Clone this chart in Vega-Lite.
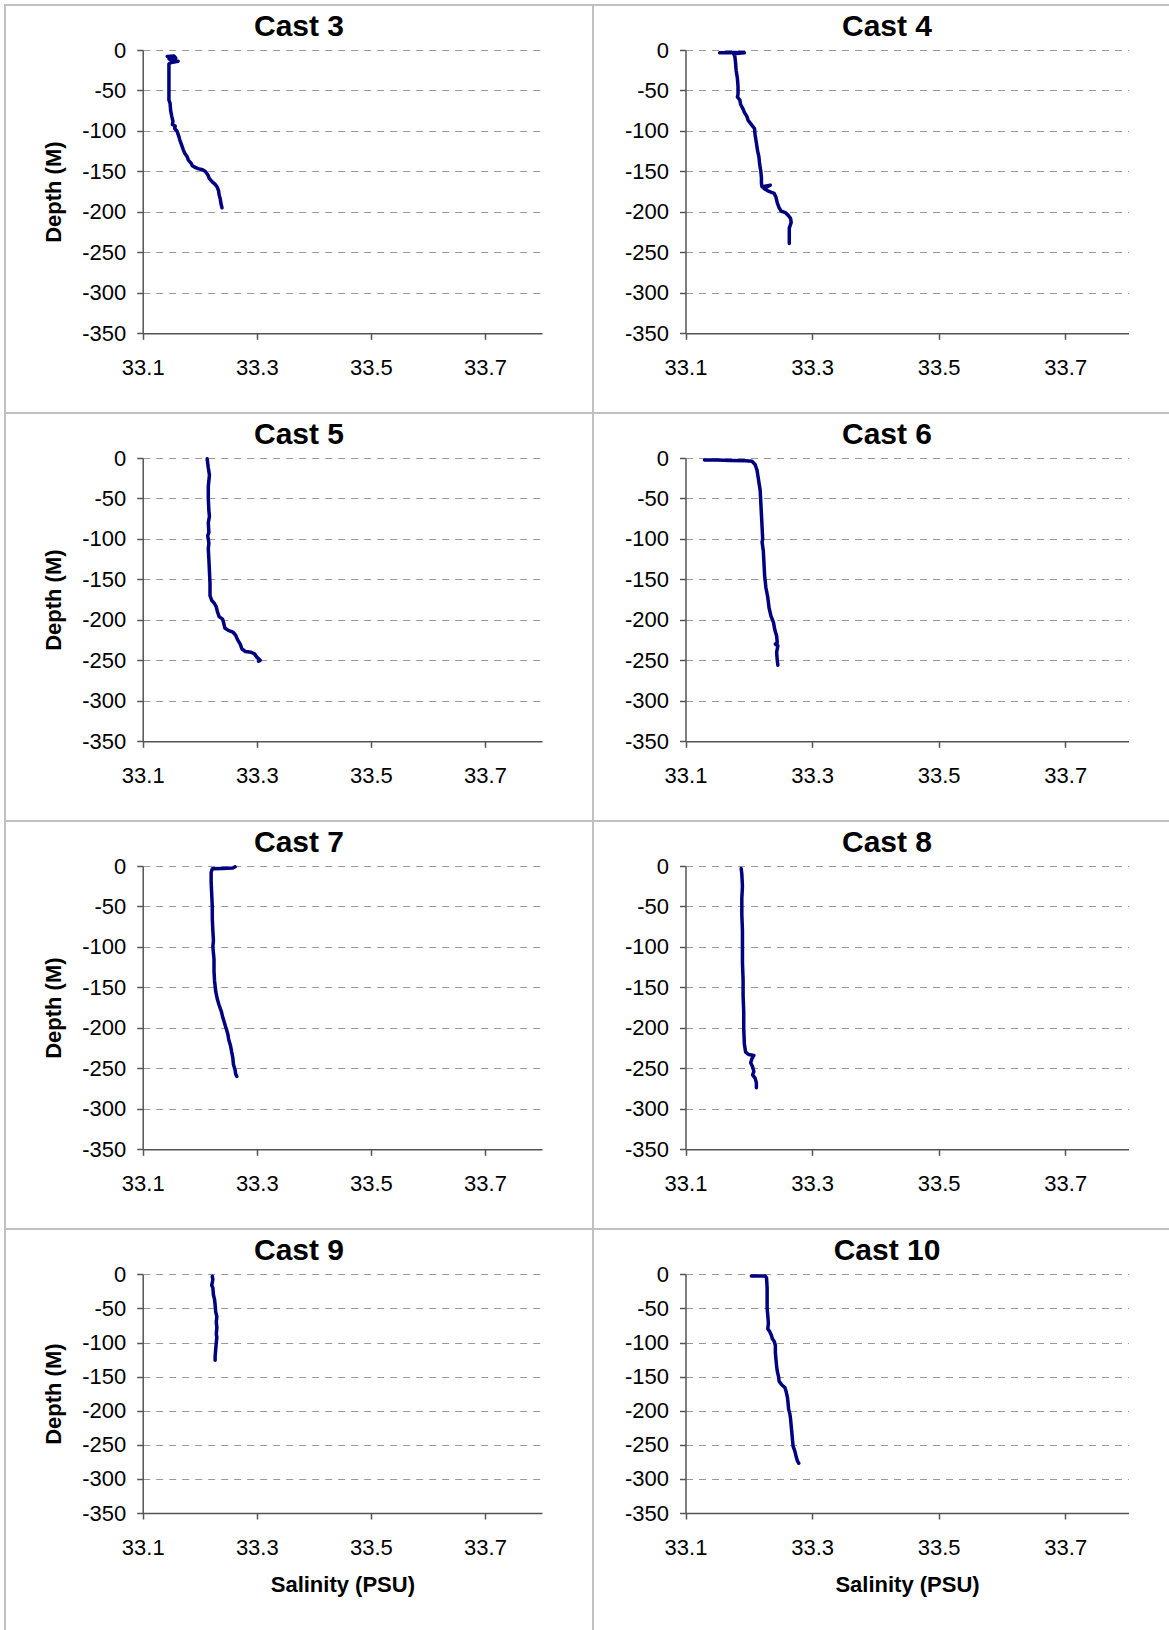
{
  "$schema": "https://vega.github.io/schema/vega-lite/v6.json",
  "padding": {"left": 4, "top": 4, "right": 0, "bottom": 0},
  "background": "white",
  "datasets": {
    "cast3": [
      {"step": 1, "salinity": 33.143, "depth": -8}, {"step": 2, "salinity": 33.155, "depth": -7.5},
      {"step": 3, "salinity": 33.158, "depth": -10}, {"step": 4, "salinity": 33.146, "depth": -11},
      {"step": 5, "salinity": 33.152, "depth": -13}, {"step": 6, "salinity": 33.162, "depth": -14},
      {"step": 7, "salinity": 33.150, "depth": -15.5}, {"step": 8, "salinity": 33.146, "depth": -17},
      {"step": 9, "salinity": 33.146, "depth": -30}, {"step": 10, "salinity": 33.146, "depth": -45},
      {"step": 11, "salinity": 33.146, "depth": -62}, {"step": 12, "salinity": 33.148, "depth": -66},
      {"step": 13, "salinity": 33.149, "depth": -75}, {"step": 14, "salinity": 33.151, "depth": -82},
      {"step": 15, "salinity": 33.153, "depth": -88}, {"step": 16, "salinity": 33.152, "depth": -92},
      {"step": 17, "salinity": 33.157, "depth": -94}, {"step": 18, "salinity": 33.156, "depth": -97},
      {"step": 19, "salinity": 33.160, "depth": -100}, {"step": 20, "salinity": 33.163, "depth": -106},
      {"step": 21, "salinity": 33.165, "depth": -111}, {"step": 22, "salinity": 33.168, "depth": -117},
      {"step": 23, "salinity": 33.171, "depth": -123}, {"step": 24, "salinity": 33.174, "depth": -128},
      {"step": 25, "salinity": 33.178, "depth": -132}, {"step": 26, "salinity": 33.180, "depth": -136},
      {"step": 27, "salinity": 33.185, "depth": -140}, {"step": 28, "salinity": 33.187, "depth": -143},
      {"step": 29, "salinity": 33.192, "depth": -145}, {"step": 30, "salinity": 33.197, "depth": -146.5},
      {"step": 31, "salinity": 33.205, "depth": -148}, {"step": 32, "salinity": 33.210, "depth": -150},
      {"step": 33, "salinity": 33.214, "depth": -154}, {"step": 34, "salinity": 33.217, "depth": -159},
      {"step": 35, "salinity": 33.222, "depth": -163}, {"step": 36, "salinity": 33.227, "depth": -166},
      {"step": 37, "salinity": 33.231, "depth": -170}, {"step": 38, "salinity": 33.233, "depth": -174},
      {"step": 39, "salinity": 33.234, "depth": -179}, {"step": 40, "salinity": 33.236, "depth": -184},
      {"step": 41, "salinity": 33.237, "depth": -189}, {"step": 42, "salinity": 33.239, "depth": -195}
    ],
    "cast4": [
      {"step": 1, "salinity": 33.154, "depth": -3.5}, {"step": 2, "salinity": 33.176, "depth": -3},
      {"step": 3, "salinity": 33.193, "depth": -3.5}, {"step": 4, "salinity": 33.176, "depth": -4.5},
      {"step": 5, "salinity": 33.178, "depth": -8}, {"step": 6, "salinity": 33.179, "depth": -15},
      {"step": 7, "salinity": 33.180, "depth": -25}, {"step": 8, "salinity": 33.182, "depth": -35},
      {"step": 9, "salinity": 33.183, "depth": -45}, {"step": 10, "salinity": 33.183, "depth": -55},
      {"step": 11, "salinity": 33.182, "depth": -58}, {"step": 12, "salinity": 33.186, "depth": -62},
      {"step": 13, "salinity": 33.187, "depth": -67}, {"step": 14, "salinity": 33.191, "depth": -73},
      {"step": 15, "salinity": 33.193, "depth": -77}, {"step": 16, "salinity": 33.197, "depth": -82},
      {"step": 17, "salinity": 33.199, "depth": -87}, {"step": 18, "salinity": 33.203, "depth": -91},
      {"step": 19, "salinity": 33.206, "depth": -94}, {"step": 20, "salinity": 33.209, "depth": -97},
      {"step": 21, "salinity": 33.210, "depth": -105}, {"step": 22, "salinity": 33.212, "depth": -115},
      {"step": 23, "salinity": 33.214, "depth": -125}, {"step": 24, "salinity": 33.216, "depth": -132},
      {"step": 25, "salinity": 33.217, "depth": -140}, {"step": 26, "salinity": 33.219, "depth": -150},
      {"step": 27, "salinity": 33.220, "depth": -158}, {"step": 28, "salinity": 33.220, "depth": -165},
      {"step": 29, "salinity": 33.221, "depth": -169}, {"step": 30, "salinity": 33.234, "depth": -167},
      {"step": 31, "salinity": 33.224, "depth": -171}, {"step": 32, "salinity": 33.230, "depth": -174},
      {"step": 33, "salinity": 33.240, "depth": -177}, {"step": 34, "salinity": 33.243, "depth": -182},
      {"step": 35, "salinity": 33.245, "depth": -189}, {"step": 36, "salinity": 33.248, "depth": -195},
      {"step": 37, "salinity": 33.251, "depth": -199}, {"step": 38, "salinity": 33.258, "depth": -201},
      {"step": 39, "salinity": 33.262, "depth": -204}, {"step": 40, "salinity": 33.266, "depth": -208},
      {"step": 41, "salinity": 33.267, "depth": -213}, {"step": 42, "salinity": 33.264, "depth": -220},
      {"step": 43, "salinity": 33.264, "depth": -230}, {"step": 44, "salinity": 33.264, "depth": -239}
    ],
    "cast5": [
      {"step": 1, "salinity": 33.213, "depth": -1}, {"step": 2, "salinity": 33.215, "depth": -12},
      {"step": 3, "salinity": 33.217, "depth": -21}, {"step": 4, "salinity": 33.215, "depth": -35},
      {"step": 5, "salinity": 33.215, "depth": -50}, {"step": 6, "salinity": 33.216, "depth": -65},
      {"step": 7, "salinity": 33.217, "depth": -72}, {"step": 8, "salinity": 33.215, "depth": -80},
      {"step": 9, "salinity": 33.216, "depth": -92}, {"step": 10, "salinity": 33.214, "depth": -96},
      {"step": 11, "salinity": 33.216, "depth": -105}, {"step": 12, "salinity": 33.215, "depth": -112},
      {"step": 13, "salinity": 33.216, "depth": -125}, {"step": 14, "salinity": 33.217, "depth": -140},
      {"step": 15, "salinity": 33.218, "depth": -155}, {"step": 16, "salinity": 33.218, "depth": -170},
      {"step": 17, "salinity": 33.221, "depth": -176}, {"step": 18, "salinity": 33.226, "depth": -180},
      {"step": 19, "salinity": 33.229, "depth": -184}, {"step": 20, "salinity": 33.231, "depth": -190},
      {"step": 21, "salinity": 33.234, "depth": -196}, {"step": 22, "salinity": 33.240, "depth": -199},
      {"step": 23, "salinity": 33.242, "depth": -204}, {"step": 24, "salinity": 33.244, "depth": -210},
      {"step": 25, "salinity": 33.250, "depth": -213}, {"step": 26, "salinity": 33.258, "depth": -215},
      {"step": 27, "salinity": 33.263, "depth": -219}, {"step": 28, "salinity": 33.266, "depth": -224},
      {"step": 29, "salinity": 33.271, "depth": -230}, {"step": 30, "salinity": 33.274, "depth": -236},
      {"step": 31, "salinity": 33.280, "depth": -239}, {"step": 32, "salinity": 33.290, "depth": -240},
      {"step": 33, "salinity": 33.296, "depth": -242}, {"step": 34, "salinity": 33.300, "depth": -246},
      {"step": 35, "salinity": 33.306, "depth": -250}, {"step": 36, "salinity": 33.303, "depth": -251}
    ],
    "cast6": [
      {"step": 1, "salinity": 33.130, "depth": -2.5}, {"step": 2, "salinity": 33.150, "depth": -2.5},
      {"step": 3, "salinity": 33.170, "depth": -3}, {"step": 4, "salinity": 33.195, "depth": -3.5},
      {"step": 5, "salinity": 33.205, "depth": -4}, {"step": 6, "salinity": 33.210, "depth": -8},
      {"step": 7, "salinity": 33.213, "depth": -15}, {"step": 8, "salinity": 33.215, "depth": -25},
      {"step": 9, "salinity": 33.218, "depth": -40}, {"step": 10, "salinity": 33.219, "depth": -55},
      {"step": 11, "salinity": 33.220, "depth": -70}, {"step": 12, "salinity": 33.221, "depth": -85},
      {"step": 13, "salinity": 33.222, "depth": -100}, {"step": 14, "salinity": 33.221, "depth": -104},
      {"step": 15, "salinity": 33.223, "depth": -115}, {"step": 16, "salinity": 33.224, "depth": -130},
      {"step": 17, "salinity": 33.225, "depth": -145}, {"step": 18, "salinity": 33.227, "depth": -160},
      {"step": 19, "salinity": 33.230, "depth": -172}, {"step": 20, "salinity": 33.232, "depth": -185},
      {"step": 21, "salinity": 33.235, "depth": -195}, {"step": 22, "salinity": 33.239, "depth": -203},
      {"step": 23, "salinity": 33.241, "depth": -212}, {"step": 24, "salinity": 33.244, "depth": -220},
      {"step": 25, "salinity": 33.245, "depth": -228}, {"step": 26, "salinity": 33.242, "depth": -230},
      {"step": 27, "salinity": 33.246, "depth": -232}, {"step": 28, "salinity": 33.244, "depth": -240},
      {"step": 29, "salinity": 33.245, "depth": -250}, {"step": 30, "salinity": 33.246, "depth": -256}
    ],
    "cast7": [
      {"step": 1, "salinity": 33.262, "depth": -1}, {"step": 2, "salinity": 33.258, "depth": -2.5},
      {"step": 3, "salinity": 33.240, "depth": -3}, {"step": 4, "salinity": 33.222, "depth": -3.5},
      {"step": 5, "salinity": 33.220, "depth": -8}, {"step": 6, "salinity": 33.220, "depth": -20},
      {"step": 7, "salinity": 33.221, "depth": -35}, {"step": 8, "salinity": 33.222, "depth": -50},
      {"step": 9, "salinity": 33.222, "depth": -65}, {"step": 10, "salinity": 33.223, "depth": -80},
      {"step": 11, "salinity": 33.224, "depth": -92}, {"step": 12, "salinity": 33.223, "depth": -100},
      {"step": 13, "salinity": 33.225, "depth": -115}, {"step": 14, "salinity": 33.225, "depth": -130},
      {"step": 15, "salinity": 33.226, "depth": -142}, {"step": 16, "salinity": 33.228, "depth": -155},
      {"step": 17, "salinity": 33.231, "depth": -165}, {"step": 18, "salinity": 33.234, "depth": -172},
      {"step": 19, "salinity": 33.238, "depth": -180}, {"step": 20, "salinity": 33.240, "depth": -186},
      {"step": 21, "salinity": 33.243, "depth": -193}, {"step": 22, "salinity": 33.246, "depth": -200},
      {"step": 23, "salinity": 33.249, "depth": -207}, {"step": 24, "salinity": 33.251, "depth": -215},
      {"step": 25, "salinity": 33.254, "depth": -222}, {"step": 26, "salinity": 33.256, "depth": -230},
      {"step": 27, "salinity": 33.258, "depth": -237}, {"step": 28, "salinity": 33.259, "depth": -245},
      {"step": 29, "salinity": 33.262, "depth": -252}, {"step": 30, "salinity": 33.263, "depth": -257},
      {"step": 31, "salinity": 33.265, "depth": -260}
    ],
    "cast8": [
      {"step": 1, "salinity": 33.188, "depth": -3}, {"step": 2, "salinity": 33.189, "depth": -10},
      {"step": 3, "salinity": 33.190, "depth": -25}, {"step": 4, "salinity": 33.189, "depth": -40},
      {"step": 5, "salinity": 33.189, "depth": -60}, {"step": 6, "salinity": 33.190, "depth": -80},
      {"step": 7, "salinity": 33.190, "depth": -100}, {"step": 8, "salinity": 33.190, "depth": -120},
      {"step": 9, "salinity": 33.191, "depth": -140}, {"step": 10, "salinity": 33.191, "depth": -160},
      {"step": 11, "salinity": 33.192, "depth": -180}, {"step": 12, "salinity": 33.192, "depth": -200},
      {"step": 13, "salinity": 33.193, "depth": -220}, {"step": 14, "salinity": 33.195, "depth": -230},
      {"step": 15, "salinity": 33.200, "depth": -233}, {"step": 16, "salinity": 33.208, "depth": -234},
      {"step": 17, "salinity": 33.205, "depth": -238}, {"step": 18, "salinity": 33.203, "depth": -243},
      {"step": 19, "salinity": 33.206, "depth": -248}, {"step": 20, "salinity": 33.208, "depth": -254},
      {"step": 21, "salinity": 33.206, "depth": -258}, {"step": 22, "salinity": 33.210, "depth": -262},
      {"step": 23, "salinity": 33.212, "depth": -268}, {"step": 24, "salinity": 33.212, "depth": -274}
    ],
    "cast9": [
      {"step": 1, "salinity": 33.222, "depth": -3}, {"step": 2, "salinity": 33.223, "depth": -8},
      {"step": 3, "salinity": 33.221, "depth": -16}, {"step": 4, "salinity": 33.223, "depth": -20},
      {"step": 5, "salinity": 33.224, "depth": -30}, {"step": 6, "salinity": 33.226, "depth": -37},
      {"step": 7, "salinity": 33.227, "depth": -45}, {"step": 8, "salinity": 33.228, "depth": -55},
      {"step": 9, "salinity": 33.230, "depth": -62}, {"step": 10, "salinity": 33.229, "depth": -70},
      {"step": 11, "salinity": 33.230, "depth": -78}, {"step": 12, "salinity": 33.229, "depth": -88},
      {"step": 13, "salinity": 33.230, "depth": -92}, {"step": 14, "salinity": 33.229, "depth": -100},
      {"step": 15, "salinity": 33.228, "depth": -110}, {"step": 16, "salinity": 33.227, "depth": -120},
      {"step": 17, "salinity": 33.227, "depth": -126}
    ],
    "cast10": [
      {"step": 1, "salinity": 33.204, "depth": -2.5}, {"step": 2, "salinity": 33.215, "depth": -2.5},
      {"step": 3, "salinity": 33.226, "depth": -2.5}, {"step": 4, "salinity": 33.228, "depth": -5},
      {"step": 5, "salinity": 33.229, "depth": -20}, {"step": 6, "salinity": 33.229, "depth": -35},
      {"step": 7, "salinity": 33.229, "depth": -50}, {"step": 8, "salinity": 33.230, "depth": -60},
      {"step": 9, "salinity": 33.231, "depth": -72}, {"step": 10, "salinity": 33.230, "depth": -80},
      {"step": 11, "salinity": 33.233, "depth": -84}, {"step": 12, "salinity": 33.236, "depth": -90},
      {"step": 13, "salinity": 33.237, "depth": -94}, {"step": 14, "salinity": 33.240, "depth": -98},
      {"step": 15, "salinity": 33.242, "depth": -104}, {"step": 16, "salinity": 33.242, "depth": -115},
      {"step": 17, "salinity": 33.243, "depth": -125}, {"step": 18, "salinity": 33.244, "depth": -135},
      {"step": 19, "salinity": 33.245, "depth": -142}, {"step": 20, "salinity": 33.247, "depth": -150},
      {"step": 21, "salinity": 33.248, "depth": -157}, {"step": 22, "salinity": 33.252, "depth": -162},
      {"step": 23, "salinity": 33.257, "depth": -166}, {"step": 24, "salinity": 33.259, "depth": -172},
      {"step": 25, "salinity": 33.261, "depth": -180}, {"step": 26, "salinity": 33.262, "depth": -188},
      {"step": 27, "salinity": 33.263, "depth": -198}, {"step": 28, "salinity": 33.265, "depth": -205},
      {"step": 29, "salinity": 33.266, "depth": -212}, {"step": 30, "salinity": 33.267, "depth": -222},
      {"step": 31, "salinity": 33.268, "depth": -232}, {"step": 32, "salinity": 33.269, "depth": -242},
      {"step": 33, "salinity": 33.270, "depth": -252}, {"step": 34, "salinity": 33.273, "depth": -260},
      {"step": 35, "salinity": 33.275, "depth": -268}, {"step": 36, "salinity": 33.277, "depth": -274},
      {"step": 37, "salinity": 33.279, "depth": -277}
    ]
  },
  "columns": 2,
  "spacing": 0,
  "bounds": "flush",
  "concat": [
    {
      "width": 588, "height": 408, "title": "Cast 3", "data": {"name": "cast3"}, "mark": "line",
      "encoding": {
        "order": {"field": "step", "type": "quantitative"},
        "x": {"field": "salinity", "type": "quantitative", "scale": {"domain": [33.1, 33.8], "range": [137.7, 537], "nice": false, "zero": false},
              "axis": {"title": null, "values": [33.1, 33.3, 33.5, 33.7], "format": ".1f", "offset": -79.7}},
        "y": {"field": "depth", "type": "quantitative", "scale": {"domain": [-350, 0], "range": [328.3, 45], "nice": false, "zero": false},
              "axis": {"title": "Depth (M)", "values": [-350, -300, -250, -200, -150, -100, -50, 0], "labelExpr": "toString(datum.value)", "offset": -137.7}}
      }
    },
    {
      "width": 588, "height": 408, "title": "Cast 4", "data": {"name": "cast4"}, "mark": "line",
      "encoding": {
        "order": {"field": "step", "type": "quantitative"},
        "x": {"field": "salinity", "type": "quantitative", "scale": {"domain": [33.1, 33.8], "range": [92.5, 535.5], "nice": false, "zero": false},
              "axis": {"title": null, "values": [33.1, 33.3, 33.5, 33.7], "format": ".1f", "offset": -79.7}},
        "y": {"field": "depth", "type": "quantitative", "scale": {"domain": [-350, 0], "range": [328.3, 45], "nice": false, "zero": false},
              "axis": {"title": null, "values": [-350, -300, -250, -200, -150, -100, -50, 0], "labelExpr": "toString(datum.value)", "offset": -92.5}}
      }
    },
    {
      "width": 588, "height": 408, "title": "Cast 5", "data": {"name": "cast5"}, "mark": "line",
      "encoding": {
        "order": {"field": "step", "type": "quantitative"},
        "x": {"field": "salinity", "type": "quantitative", "scale": {"domain": [33.1, 33.8], "range": [137.7, 537], "nice": false, "zero": false},
              "axis": {"title": null, "values": [33.1, 33.3, 33.5, 33.7], "format": ".1f", "offset": -79.7}},
        "y": {"field": "depth", "type": "quantitative", "scale": {"domain": [-350, 0], "range": [328.3, 45], "nice": false, "zero": false},
              "axis": {"title": "Depth (M)", "values": [-350, -300, -250, -200, -150, -100, -50, 0], "labelExpr": "toString(datum.value)", "offset": -137.7}}
      }
    },
    {
      "width": 588, "height": 408, "title": "Cast 6", "data": {"name": "cast6"}, "mark": "line",
      "encoding": {
        "order": {"field": "step", "type": "quantitative"},
        "x": {"field": "salinity", "type": "quantitative", "scale": {"domain": [33.1, 33.8], "range": [92.5, 535.5], "nice": false, "zero": false},
              "axis": {"title": null, "values": [33.1, 33.3, 33.5, 33.7], "format": ".1f", "offset": -79.7}},
        "y": {"field": "depth", "type": "quantitative", "scale": {"domain": [-350, 0], "range": [328.3, 45], "nice": false, "zero": false},
              "axis": {"title": null, "values": [-350, -300, -250, -200, -150, -100, -50, 0], "labelExpr": "toString(datum.value)", "offset": -92.5}}
      }
    },
    {
      "width": 588, "height": 408, "title": "Cast 7", "data": {"name": "cast7"}, "mark": "line",
      "encoding": {
        "order": {"field": "step", "type": "quantitative"},
        "x": {"field": "salinity", "type": "quantitative", "scale": {"domain": [33.1, 33.8], "range": [137.7, 537], "nice": false, "zero": false},
              "axis": {"title": null, "values": [33.1, 33.3, 33.5, 33.7], "format": ".1f", "offset": -79.7}},
        "y": {"field": "depth", "type": "quantitative", "scale": {"domain": [-350, 0], "range": [328.3, 45], "nice": false, "zero": false},
              "axis": {"title": "Depth (M)", "values": [-350, -300, -250, -200, -150, -100, -50, 0], "labelExpr": "toString(datum.value)", "offset": -137.7}}
      }
    },
    {
      "width": 588, "height": 408, "title": "Cast 8", "data": {"name": "cast8"}, "mark": "line",
      "encoding": {
        "order": {"field": "step", "type": "quantitative"},
        "x": {"field": "salinity", "type": "quantitative", "scale": {"domain": [33.1, 33.8], "range": [92.5, 535.5], "nice": false, "zero": false},
              "axis": {"title": null, "values": [33.1, 33.3, 33.5, 33.7], "format": ".1f", "offset": -79.7}},
        "y": {"field": "depth", "type": "quantitative", "scale": {"domain": [-350, 0], "range": [328.3, 45], "nice": false, "zero": false},
              "axis": {"title": null, "values": [-350, -300, -250, -200, -150, -100, -50, 0], "labelExpr": "toString(datum.value)", "offset": -92.5}}
      }
    },
    {
      "width": 588, "height": 408, "title": "Cast 9", "data": {"name": "cast9"}, "mark": "line",
      "encoding": {
        "order": {"field": "step", "type": "quantitative"},
        "x": {"field": "salinity", "type": "quantitative", "scale": {"domain": [33.1, 33.8], "range": [137.7, 537], "nice": false, "zero": false},
              "axis": {"title": "Salinity (PSU)", "values": [33.1, 33.3, 33.5, 33.7], "format": ".1f", "offset": -124}},
        "y": {"field": "depth", "type": "quantitative", "scale": {"domain": [-350, 0], "range": [284, 45.3], "nice": false, "zero": false},
              "axis": {"title": "Depth (M)", "values": [-350, -300, -250, -200, -150, -100, -50, 0], "labelExpr": "toString(datum.value)", "offset": -137.7}}
      }
    },
    {
      "width": 588, "height": 408, "title": "Cast 10", "data": {"name": "cast10"}, "mark": "line",
      "encoding": {
        "order": {"field": "step", "type": "quantitative"},
        "x": {"field": "salinity", "type": "quantitative", "scale": {"domain": [33.1, 33.8], "range": [92.5, 535.5], "nice": false, "zero": false},
              "axis": {"title": "Salinity (PSU)", "values": [33.1, 33.3, 33.5, 33.7], "format": ".1f", "offset": -124}},
        "y": {"field": "depth", "type": "quantitative", "scale": {"domain": [-350, 0], "range": [284, 45.3], "nice": false, "zero": false},
              "axis": {"title": null, "values": [-350, -300, -250, -200, -150, -100, -50, 0], "labelExpr": "toString(datum.value)", "offset": -92.5}}
      }
    }
  ],
  "config": {
    "font": "Liberation Sans",
    "view": {"stroke": "#c0c0c0", "strokeWidth": 2},
    "title": {"font": "Liberation Sans", "fontSize": 30, "fontWeight": "bold", "color": "#000000", "anchor": "middle", "frame": "group", "baseline": "alphabetic", "offset": -36.5},
    "axis": {
      "labelFont": "Liberation Sans", "labelFontSize": 22, "labelColor": "#000000",
      "domainColor": "#555555", "domainWidth": 1.5, "tickColor": "#555555", "tickWidth": 1.5, "tickSize": 6,
      "titleFont": "Liberation Sans", "titleFontSize": 22, "titleFontWeight": "bold", "titleColor": "#000000"
    },
    "axisX": {"grid": false, "labelPadding": 18, "labelFlush": false, "labelOverlap": false, "titlePadding": 16},
    "axisY": {"grid": true, "gridColor": "#999999", "gridDash": [7, 6], "gridWidth": 1.2, "labelPadding": 11, "titlePadding": 16, "labelOverlap": false},
    "line": {"color": "#000080", "strokeWidth": 3.5, "strokeJoin": "round", "strokeCap": "round"}
  }
}
